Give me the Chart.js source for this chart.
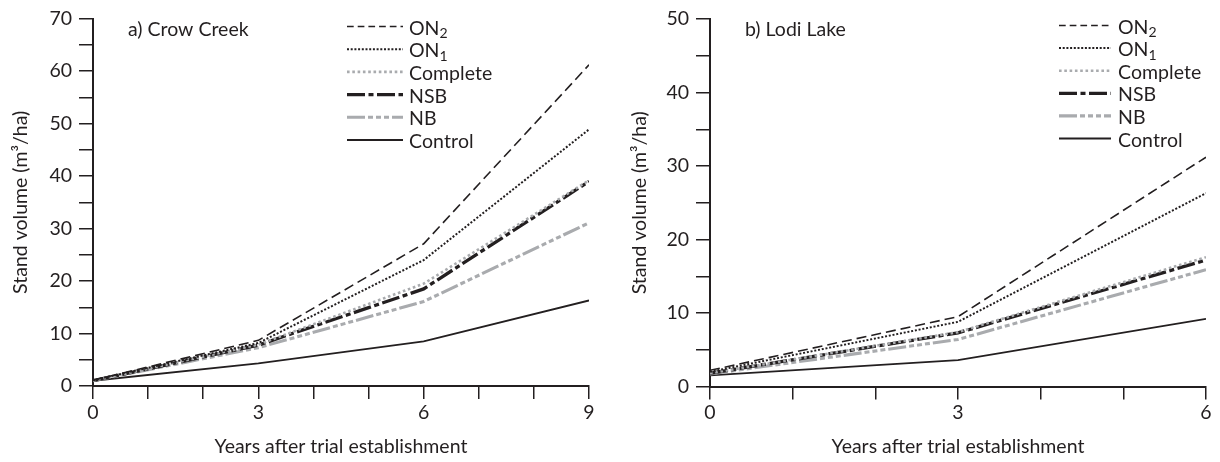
<!DOCTYPE html>
<html>
<head>
<meta charset="utf-8">
<script src="https://cdn.jsdelivr.net/npm/chart.js@4.4.1/dist/chart.umd.min.js"></script>
<style>
    html, body { margin: 0; padding: 0; background: #fff; }
    #wrap { position: relative; width: 1220px; height: 462px; }
    canvas { position: absolute; top: 0; }
</style>
</head>
<body>
<div id="wrap">
    <canvas id="crowChart" width="610" height="462" style="left:0"></canvas>
    <canvas id="lodiChart" width="610" height="462" style="left:610px"></canvas>
</div>
<script>
const treatments = ["ON₂", "ON₁", "Complete", "NSB", "NB", "Control"];

// a) Crow Creek
const crowYears = [0, 3, 6, 9];
const crowOn2 = [1.1, 8.7, 27.1, 61.2];
const crowOn1 = [1.1, 8.2, 24.0, 48.9];
const crowComplete = [1.0, 7.9, 19.5, 39.2];
const crowNsb = [1.0, 7.8, 18.5, 39.0];
const crowNb = [1.0, 7.3, 16.1, 31.1];
const crowControl = [1.0, 4.3, 8.5, 16.3];
const crowYearLabels = [0, 3, 6, 9];
const crowVolumeLabels = [0, 10, 20, 30, 40, 50, 60, 70];

// b) Lodi Lake
const lodiYears = [0, 3, 6];
const lodiOn2 = [2.2, 9.5, 31.2];
const lodiOn1 = [2.0, 8.8, 26.3];
const lodiComplete = [1.8, 7.4, 17.6];
const lodiNsb = [1.8, 7.3, 17.2];
const lodiNb = [1.7, 6.4, 15.9];
const lodiControl = [1.5, 3.6, 9.2];
const lodiYearLabels = [0, 3, 6];
const lodiVolumeLabels = [0, 10, 20, 30, 40, 50];

const ink = "#231f20";
const grey = "#a9abae";
const fontFamily = "Lato";
const fontSize = 19.5;

// plot dash and legend dash differ a little in the original figure
const lineStyles = [
    { color: ink, width: 1.6, dash: [10, 5], keyDash: [6.7, 4] },
    { color: ink, width: 2, dash: [2, 1.8], keyDash: [2, 1.7] },
    { color: grey, width: 2.6, dash: [2.6, 2.7], keyDash: [2.6, 2.7] },
    { color: ink, width: 3.3, dash: [18, 3.5, 5, 3.5], keyDash: [18, 3.5, 5, 3.5] },
    { color: grey, width: 3.1, dash: [18, 3, 5, 3, 5, 3, 5, 3], keyDash: [18, 3, 5, 3, 5, 3, 5, 3] },
    { color: ink, width: 1.8, dash: [], keyDash: [] }
];

Chart.defaults.font.family = `${fontFamily}, sans-serif`;
Chart.defaults.font.size = fontSize;
Chart.defaults.color = ink;

const subDigits = "₀₁₂₃₄₅₆₇₈₉";

// draws "ON₂" style labels with a real lowered subscript
function drawKeyText(ctx, text, x, y) {
    let cx = x;
    for (const ch of text) {
        const sub = subDigits.indexOf(ch);
        if (sub >= 0) {
            ctx.font = `${fontSize * 0.72}px ${fontFamily}`;
            ctx.fillText(String(sub), cx, y + 3.5);
            cx += ctx.measureText(String(sub)).width;
        } else {
            ctx.font = `${fontSize}px ${fontFamily}`;
            ctx.fillText(ch, cx, y);
            cx += ctx.measureText(ch).width;
        }
    }
}

const lineKey = {
    id: "lineKey",
    afterDraw(chart, args, opts) {
        const ctx = chart.ctx;
        const area = chart.chartArea;
        ctx.save();
        ctx.fillStyle = ink;
        ctx.textBaseline = "alphabetic";
        ctx.font = `${fontSize}px ${fontFamily}`;
        ctx.fillText(opts.title, area.left + 35, area.top + 17);

        chart.data.datasets.forEach((ds, i) => {
            const y = opts.top + i * opts.rowGap;
            const x0 = area.left + opts.left;
            ctx.beginPath();
            ctx.strokeStyle = ds.borderColor;
            ctx.lineWidth = ds.borderWidth;
            ctx.setLineDash(ds.keyDash);
            ctx.moveTo(x0, y);
            ctx.lineTo(x0 + opts.length, y);
            ctx.stroke();
            ctx.setLineDash([]);
            drawKeyText(ctx, ds.label, x0 + opts.length + opts.gap, y + 8);
        });
        ctx.restore();
    }
};

function makeChart(id, years, series, cfg) {
    const datasets = series.map((values, i) => ({
        label: treatments[i],
        data: values.map((v, j) => ({ x: years[j], y: v })),
        borderColor: lineStyles[i].color,
        borderWidth: lineStyles[i].width,
        borderDash: lineStyles[i].dash,
        keyDash: lineStyles[i].keyDash,
        pointRadius: 0,
        tension: 0,
        fill: false
    }));

    return new Chart(document.getElementById(id), {
        type: "line",
        data: { datasets },
        plugins: [lineKey],
        options: {
            responsive: false,
            animation: false,
            devicePixelRatio: 1,
            layout: { padding: cfg.padding },
            plugins: {
                legend: { display: false },
                tooltip: { enabled: false },
                lineKey: cfg.key
            },
            scales: {
                x: {
                    type: "linear",
                    min: 0,
                    max: years[years.length - 1],
                    ticks: {
                        stepSize: 1,
                        autoSkip: false,
                        maxRotation: 0,
                        padding: 2,
                        callback: v => cfg.yearLabels.includes(v) ? String(v) : ""
                    },
                    grid: { drawOnChartArea: false, tickLength: 13, color: ink, lineWidth: 1.5 },
                    border: { color: ink, width: 2 },
                    title: {
                        display: true,
                        text: "Years after trial establishment",
                        padding: { top: 0, bottom: 4 }
                    },
                    afterFit: s => { s.height = cfg.xHeight; }
                },
                y: {
                    type: "linear",
                    min: 0,
                    max: cfg.volumeMax,
                    ticks: {
                        stepSize: 5,
                        autoSkip: false,
                        padding: 7,
                        callback: v => cfg.volumeLabels.includes(v) ? String(v) : ""
                    },
                    grid: { drawOnChartArea: false, tickLength: 14, color: ink, lineWidth: 1.5 },
                    border: { color: ink, width: 2 },
                    title: {
                        display: true,
                        text: "Stand volume (m³/ha)",
                        padding: { top: cfg.yTitlePad, bottom: 0 }
                    },
                    afterFit: s => { s.width = cfg.yWidth; }
                }
            }
        }
    });
}

makeChart("crowChart", crowYears,
    [crowOn2, crowOn1, crowComplete, crowNsb, crowNb, crowControl],
    {
        padding: { top: 18, right: 21, bottom: 0, left: 0 },
        xHeight: 76,
        yWidth: 93,
        yTitlePad: 9,
        volumeMax: 70,
        yearLabels: crowYearLabels,
        volumeLabels: crowVolumeLabels,
        key: { title: "a) Crow Creek", left: 254, length: 56, gap: 6, top: 26.5, rowGap: 22.7 }
    });

makeChart("lodiChart", lodiYears,
    [lodiOn2, lodiOn1, lodiComplete, lodiNsb, lodiNb, lodiControl],
    {
        padding: { top: 19, right: 14, bottom: 0, left: 0 },
        xHeight: 75.5,
        yWidth: 100,
        yTitlePad: 18,
        volumeMax: 50,
        yearLabels: lodiYearLabels,
        volumeLabels: lodiVolumeLabels,
        key: { title: "b) Lodi Lake", left: 349, length: 52, gap: 7, top: 25.5, rowGap: 22.6 }
    });
</script>
</body>
</html>
